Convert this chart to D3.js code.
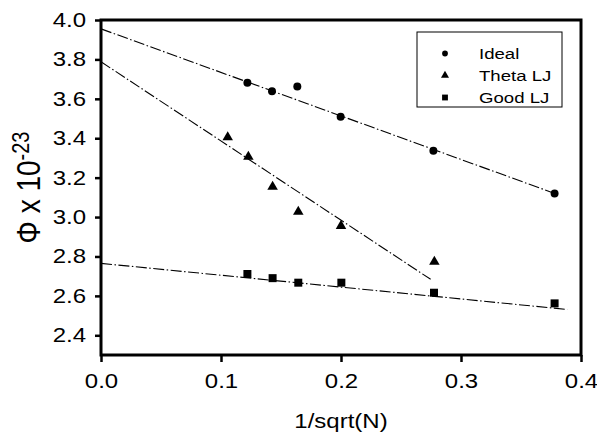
<!DOCTYPE html>
<html>
<head>
<meta charset="utf-8">
<script src="https://cdn.jsdelivr.net/npm/d3@7"></script>
<style>
  body { margin: 0; background: #fff; }
  text { font-family: "Liberation Sans", Arial, sans-serif; fill: #000; }
</style>
</head>
<body>
<div id="chart"></div>
<script>
// values
const idealX = [0.122, 0.1425, 0.1636, 0.1997, 0.277, 0.378];
const idealY = [3.682, 3.638, 3.663, 3.509, 3.337, 3.12];
const thetaX = [0.1056, 0.1228, 0.143, 0.1644, 0.2, 0.2778];
const thetaY = [3.405, 3.306, 3.154, 3.027, 2.955, 2.773];
const goodX = [0.122, 0.143, 0.1644, 0.2003, 0.2775, 0.378];
const goodY = [2.711, 2.69, 2.667, 2.667, 2.616, 2.562];

// dashed fit lines: [x0, x1], [y0, y1]
const idealFitX = [0, 0.378], idealFitY = [3.955, 3.12];
const thetaFitX = [0, 0.2747], thetaFitY = [3.788, 2.684];
const goodFitX = [0, 0.3886], goodFitY = [2.765, 2.531];

const xTicks = [0, 0.1, 0.2, 0.3, 0.4];
const yTicks = [2.4, 2.6, 2.8, 3.0, 3.2, 3.4, 3.6, 3.8, 4.0];
const legendNames = ["Ideal", "Theta LJ", "Good LJ"];

const width = 597, height = 434;
const margin = {left: 101, top: 20, right: 16, bottom: 79};
const sx = 1.2; // text in the picture is stretched sideways

const svg = d3.select("#chart").append("svg")
  .attr("width", width)
  .attr("height", height);

const x = d3.scaleLinear().domain([0, 0.4]).range([margin.left, width - margin.right]);
const y = d3.scaleLinear().domain([2.3, 4.0]).range([height - margin.bottom, margin.top]);

const x0 = x(0), x1 = x(0.4), yb = y(2.3), ytop = y(4.0);

const xAxis = svg.append("g")
  .attr("transform", `translate(0,${yb})`)
  .call(d3.axisBottom(x).tickValues(xTicks).tickSize(7).tickSizeOuter(0).tickPadding(12).tickFormat(d3.format(".1f")));
xAxis.select(".domain").remove();
xAxis.selectAll(".tick line").attr("stroke", "#000").attr("stroke-width", 2.5);
xAxis.selectAll("text")
  .attr("font-size", 20)
  .attr("transform", `scale(${sx},1)`);

const yAxis = svg.append("g")
  .attr("transform", `translate(${x0},0)`)
  .call(d3.axisLeft(y).tickValues(yTicks).tickSize(6).tickSizeOuter(0).tickFormat(d3.format(".1f")));
yAxis.select(".domain").remove();
yAxis.selectAll(".tick line").attr("stroke", "#000").attr("stroke-width", 2.5);
yAxis.selectAll("text")
  .attr("font-size", 20)
  .attr("x", -15 / sx)
  .attr("transform", `scale(${sx},1)`);

// frame
svg.append("rect")
  .attr("x", x0).attr("y", ytop)
  .attr("width", x1 - x0).attr("height", yb - ytop)
  .attr("fill", "none").attr("stroke", "#000").attr("stroke-width", 3);

// axis titles
svg.append("text")
  .attr("transform", `translate(${(x0 + x1) / 2},428) scale(${sx},1)`)
  .attr("text-anchor", "middle")
  .attr("font-size", 20)
  .text("1/sqrt(N)");

const yt = svg.append("text")
  .attr("transform", `translate(40,${(yb + ytop) / 2}) scale(${sx},1) rotate(-90)`)
  .attr("text-anchor", "middle")
  .attr("font-size", 28);
yt.append("tspan").text("Φ x 10");
yt.append("tspan").attr("dy", -9).attr("font-size", 20).text("-23");

// fit lines
const dash = "11,2.5,1.5,2.5";
[[idealFitX, idealFitY], [thetaFitX, thetaFitY], [goodFitX, goodFitY]].forEach(([fx, fy]) => {
  svg.append("line")
    .attr("x1", x(fx[0])).attr("y1", y(fy[0]))
    .attr("x2", x(fx[1])).attr("y2", y(fy[1]))
    .attr("stroke", "#000")
    .attr("stroke-width", 1.1)
    .attr("stroke-dasharray", dash);
});

// markers
const series = [
  {xs: idealX, ys: idealY, type: d3.symbolCircle, size: 50, legSize: 26},
  {xs: thetaX, ys: thetaY, type: d3.symbolTriangle, size: 48, legSize: 28},
  {xs: goodX, ys: goodY, type: d3.symbolSquare, size: 64, legSize: 34}
];
series.forEach(s => {
  svg.append("g").selectAll("path")
    .data(s.xs.map((v, i) => [v, s.ys[i]]))
    .join("path")
    .attr("transform", d => `translate(${x(d[0])},${y(d[1])})`)
    .attr("d", d3.symbol().type(s.type).size(s.size))
    .attr("fill", "#000");
});

// legend
const leg = svg.append("g").attr("transform", "translate(417,32)");
leg.append("rect")
  .attr("width", 145).attr("height", 75)
  .attr("fill", "#fff").attr("stroke", "#000").attr("stroke-width", 1);
legendNames.forEach((name, i) => {
  const row = leg.append("g").attr("transform", `translate(0,${21.5 + i * 22})`);
  row.append("path")
    .attr("transform", "translate(28,0)")
    .attr("d", d3.symbol().type(series[i].type).size(series[i].legSize))
    .attr("fill", "#000");
  row.append("text")
    .attr("transform", `translate(62,5.5) scale(${sx},1)`)
    .attr("font-size", 15.5)
    .text(name);
});
</script>
</body>
</html>
